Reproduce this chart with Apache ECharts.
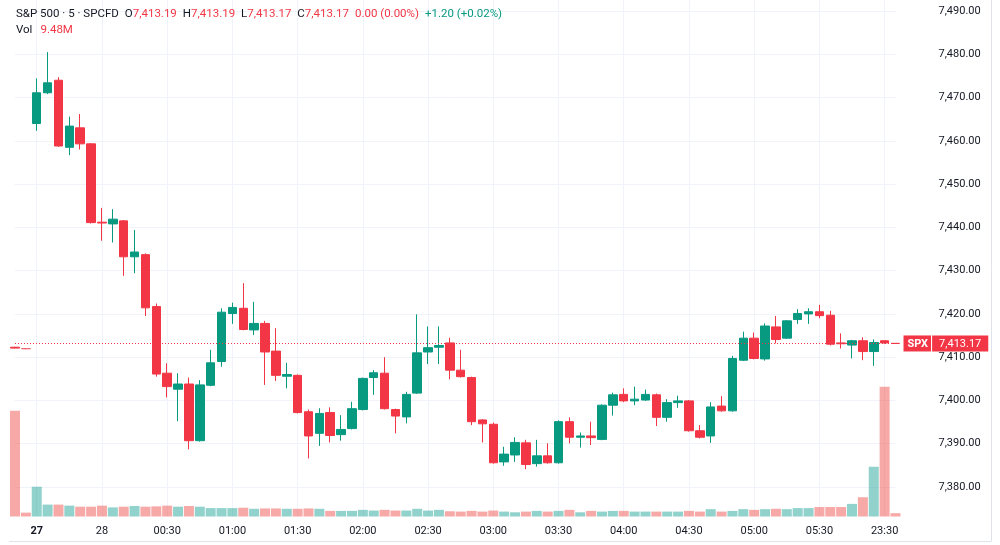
<!DOCTYPE html>
<html>
<head>
<meta charset="utf-8">
<title>S&P 500 · 5 · SPCFD</title>
<script src="https://cdn.jsdelivr.net/npm/echarts@6/dist/echarts.min.js"></script>
<style>
  html, body { margin: 0; padding: 0; background: #fff; }
  #chart { width: 1000px; height: 545px; }
</style>
</head>
<body>
<div id="chart"></div>
<script>
// 5 minute bars
const opens = [7412.3, 7412.0, 7464.0, 7471.1, 7474.0, 7458.5, 7463.0, 7459.3, 7441.2, 7440.8,
  7441.5, 7433.2, 7433.7, 7421.7, 7406.3, 7402.6, 7403.8, 7390.7, 7403.5, 7409.0,
  7420.1, 7421.3, 7416.3, 7417.8, 7411.4, 7405.6, 7405.8, 7397.4, 7392.4, 7397.2,
  7392.1, 7393.5, 7397.9, 7405.3, 7406.3, 7397.9, 7396.2, 7401.7, 7411.2, 7412.3,
  7413.3, 7407.0, 7405.3, 7395.5, 7394.5, 7385.8, 7387.4, 7390.2, 7385.4, 7387.2,
  7385.6, 7395.1, 7391.5, 7391.8, 7391.0, 7398.9, 7401.4, 7399.9, 7400.1, 7401.3,
  7396.1, 7399.5, 7399.9, 7393.0, 7391.8, 7398.7, 7397.6, 7409.3, 7414.4, 7409.6,
  7417.0, 7414.4, 7418.7, 7420.0, 7420.5, 7419.7, 7413.3, 7412.8, 7413.8, 7411.3,
  7413.8, 7413.19]
const closes = [7412.1, 7411.9, 7471.1, 7473.4, 7458.8, 7463.4, 7459.3, 7441.1, 7441.0, 7441.9,
  7433.2, 7434.3, 7421.4, 7406.1, 7403.2, 7403.8, 7390.7, 7403.6, 7408.7, 7420.4,
  7421.5, 7416.4, 7417.8, 7411.2, 7405.8, 7406.0, 7397.2, 7391.8, 7397.0, 7391.9,
  7393.3, 7398.1, 7405.1, 7406.4, 7398.1, 7396.4, 7401.4, 7411.0, 7412.2, 7412.7,
  7407.0, 7405.5, 7395.1, 7394.6, 7385.6, 7387.6, 7390.3, 7385.2, 7387.2, 7385.6,
  7395.1, 7391.5, 7391.8, 7391.4, 7398.9, 7401.3, 7399.9, 7400.3, 7401.4, 7396.1,
  7399.5, 7399.9, 7393.0, 7391.5, 7398.5, 7397.6, 7409.7, 7414.4, 7409.7, 7417.2,
  7414.1, 7418.4, 7420.1, 7420.5, 7419.6, 7413.0, 7413.1, 7413.8, 7411.3, 7413.4,
  7413.3, 7413.17]
const lows = [7412.0, 7411.8, 7462.3, 7470.8, 7458.6, 7456.7, 7458.0, 7440.9, 7436.9, 7436.5,
  7428.8, 7429.4, 7419.5, 7405.5, 7400.7, 7395.2, 7388.7, 7390.5, 7403.3, 7407.8,
  7417.7, 7416.2, 7415.1, 7403.6, 7404.5, 7402.8, 7397.0, 7386.6, 7389.5, 7390.3,
  7390.7, 7393.3, 7397.7, 7401.3, 7397.9, 7392.4, 7394.7, 7401.5, 7408.4, 7408.4,
  7404.9, 7405.3, 7394.3, 7390.3, 7385.4, 7384.9, 7385.8, 7384.1, 7384.7, 7385.4,
  7385.4, 7390.1, 7389.1, 7389.7, 7390.8, 7396.5, 7399.6, 7398.9, 7399.9, 7394.1,
  7395.1, 7398.3, 7392.8, 7391.2, 7390.2, 7397.4, 7397.4, 7409.1, 7409.5, 7409.2,
  7413.2, 7414.2, 7417.7, 7417.7, 7419.0, 7412.7, 7412.0, 7409.7, 7409.3, 7408.0,
  7413.1, 7413.17]
const highs = [7412.4, 7412.1, 7474.4, 7480.5, 7474.7, 7465.6, 7466.2, 7459.5, 7444.5, 7444.2,
  7441.7, 7439.4, 7434.0, 7422.4, 7408.6, 7406.3, 7405.3, 7404.7, 7411.7, 7421.3,
  7422.6, 7427.1, 7422.8, 7418.4, 7416.7, 7408.7, 7406.0, 7397.9, 7398.2, 7398.4,
  7396.6, 7399.7, 7405.3, 7407.0, 7410.0, 7398.1, 7402.0, 7419.9, 7417.1, 7417.1,
  7414.5, 7411.7, 7405.5, 7395.7, 7394.9, 7389.3, 7391.5, 7390.9, 7390.9, 7390.1,
  7395.4, 7396.1, 7392.6, 7395.1, 7399.1, 7401.8, 7402.8, 7403.2, 7402.5, 7401.6,
  7400.3, 7401.1, 7400.1, 7394.3, 7399.6, 7401.0, 7410.3, 7415.9, 7415.7, 7417.8,
  7419.5, 7418.6, 7421.1, 7421.3, 7422.1, 7420.7, 7415.5, 7414.0, 7414.6, 7414.1,
  7413.9, 7413.19]
// volume in millions
const volumes = [302, 11, 85, 34, 34, 31, 28, 28, 31, 26,
  28, 30, 28, 29, 31, 28, 30, 28, 24, 24,
  24, 25, 22, 23, 23, 22, 22, 23, 22, 16,
  16, 16, 19, 17, 19, 17, 17, 22, 17, 19,
  15, 14, 16, 14, 17, 14, 12, 14, 16, 14,
  16, 19, 12, 16, 14, 16, 16, 14, 14, 14,
  14, 14, 16, 14, 21, 14, 16, 21, 19, 21,
  22, 21, 24, 24, 27, 27, 27, 36, 55, 142,
  370, 9.48]

const tickIndex = [2, 8, 14, 20, 26, 32, 38, 44, 50, 56, 62, 68, 74, 80]
const tickLabels = ['27', '28', '00:30', '01:00', '01:30', '02:00', '02:30', '03:00', '03:30', '04:00', '04:30', '05:00', '05:30', '23:30']
const dayTicks = ['27']

const up = '#089981'
const down = '#F23645'
const upVol = 'rgba(38,166,154,0.5)'
const downVol = 'rgba(239,83,80,0.5)'
const textColor = '#131722'
const gridColor = '#f0f3fa'
const font = 'Roboto, "Noto Sans", sans-serif'

const fmt = v => v.toLocaleString('en-US', { minimumFractionDigits: 2, maximumFractionDigits: 2 })
const last = opens.length - 1
const isUp = i => closes[i] >= opens[i]
const isTick = i => tickIndex.indexOf(i) >= 0

const chart = echarts.init(document.getElementById('chart'))

// legend line styles
const hs = (color, padLeft) => ({ fill: color, fontSize: 11.5, fontFamily: font, lineHeight: 16, padding: [0, 0, 0, padLeft] })

const option = {
  animation: false,
  backgroundColor: '#fff',
  textStyle: { fontFamily: font },
  grid: [
    { left: 15, right: 104.5, top: 11, bottom: 58 },
    { left: 15, right: 104.5, top: 0, bottom: 28.5 }
  ],
  xAxis: [
    {
      type: 'category',
      gridIndex: 0,
      data: opens.map((_, i) => i),
      boundaryGap: false,
      show: false
    },
    {
      type: 'category',
      gridIndex: 1,
      data: opens.map((_, i) => i),
      boundaryGap: false,
      axisLine: { show: false },
      axisTick: { show: false },
      axisLabel: {
        interval: (i) => isTick(i),
        formatter: (v, i) => {
          const t = tickLabels[tickIndex.indexOf(i)]
          return dayTicks.indexOf(t) >= 0 ? '{b|' + t + '}' : t
        },
        color: textColor,
        fontSize: 11,
        fontFamily: font,
        margin: 9,
        rich: { b: { fontWeight: 'bold', fontSize: 11, color: textColor, fontFamily: font } }
      },
      splitLine: {
        show: true,
        interval: (i) => isTick(i),
        lineStyle: { color: gridColor, width: 1 }
      }
    }
  ],
  yAxis: [
    {
      type: 'value',
      gridIndex: 0,
      position: 'right',
      min: 7380,
      max: 7490,
      interval: 10,
      axisLine: { show: false },
      axisTick: { show: false },
      axisLabel: {
        formatter: v => fmt(v),
        color: textColor,
        fontSize: 11,
        fontFamily: font,
        align: 'left',
        margin: 43
      },
      splitLine: { lineStyle: { color: gridColor, width: 1 } }
    },
    {
      type: 'value',
      gridIndex: 1,
      min: 0,
      max: 1474,
      show: false,
      splitLine: { show: false }
    }
  ],
  graphic: [
    {
      type: 'text',
      left: 16,
      top: 8,
      z: 10,
      style: {
        text: '{n|S&P 500 · 5 · SPCFD}{g|O}{r|' + fmt(opens[last]) + '}{g|H}{r|' + fmt(highs[last]) +
          '}{g|L}{r|' + fmt(lows[last]) + '}{g|C}{r|' + fmt(closes[last]) +
          '}{rs|0.00 (0.00%)}{gs|+1.20 (+0.02%)}',
        rich: {
          n: hs(textColor, 0),
          g: hs(textColor, 6),
          r: hs(down, 0),
          rs: hs(down, 6),
          gs: hs(up, 6)
        }
      }
    },
    {
      type: 'text',
      left: 16,
      top: 24,
      z: 10,
      style: {
        text: '{g|Vol}{r|' + volumes[last] + 'M}',
        rich: {
          g: hs(textColor, 0),
          r: hs(down, 8)
        }
      }
    },
    { type: 'line', shape: { x1: 991.5, y1: 0, x2: 991.5, y2: 541 }, style: { stroke: '#e0e3eb', lineWidth: 1 } },
    { type: 'line', shape: { x1: 9, y1: 541.5, x2: 991.5, y2: 541.5 }, style: { stroke: '#e0e3eb', lineWidth: 1 } }
  ],
  series: [
    {
      name: 'Volume',
      type: 'bar',
      xAxisIndex: 1,
      yAxisIndex: 1,
      barWidth: 10,
      clip: false,
      z: 1,
      data: volumes.map((v, i) => ({
        value: v,
        itemStyle: { color: isUp(i) ? upVol : downVol }
      }))
    },
    {
      name: 'SPX',
      type: 'candlestick',
      xAxisIndex: 0,
      yAxisIndex: 0,
      barWidth: 9,
      clip: false,
      z: 3,
      itemStyle: {
        color: up,
        color0: down,
        borderColor: up,
        borderColor0: down,
        borderWidth: 1
      },
      data: opens.map((o, i) => {
        const item = { value: [o, closes[i], lows[i], highs[i]] }
        if (i === 1) item.itemStyle = { opacity: 0.5 }
        return item
      }),
      markLine: {
        silent: true,
        symbol: 'none',
        animation: false,
        lineStyle: { color: down, type: [1, 2], width: 1 },
        label: {
          show: true,
          position: 'end',
          distance: 8,
          formatter: '{a|SPX}{s|}{b|' + fmt(closes[last]) + '}',
          rich: {
            a: { color: '#fff', backgroundColor: down, fontSize: 11, fontWeight: 'bold', fontFamily: font, lineHeight: 12, padding: [3, 3, 2, 4] },
            s: { width: 1, height: 17, backgroundColor: '#fff' },
            b: { color: '#fff', backgroundColor: down, fontSize: 11, fontFamily: font, lineHeight: 12, padding: [3, 7, 2, 7] }
          }
        },
        data: [{ yAxis: closes[last] }]
      }
    }
  ]
}

chart.setOption(option)
window.addEventListener('resize', function() {
  chart.resize()
})
</script>
</body>
</html>
